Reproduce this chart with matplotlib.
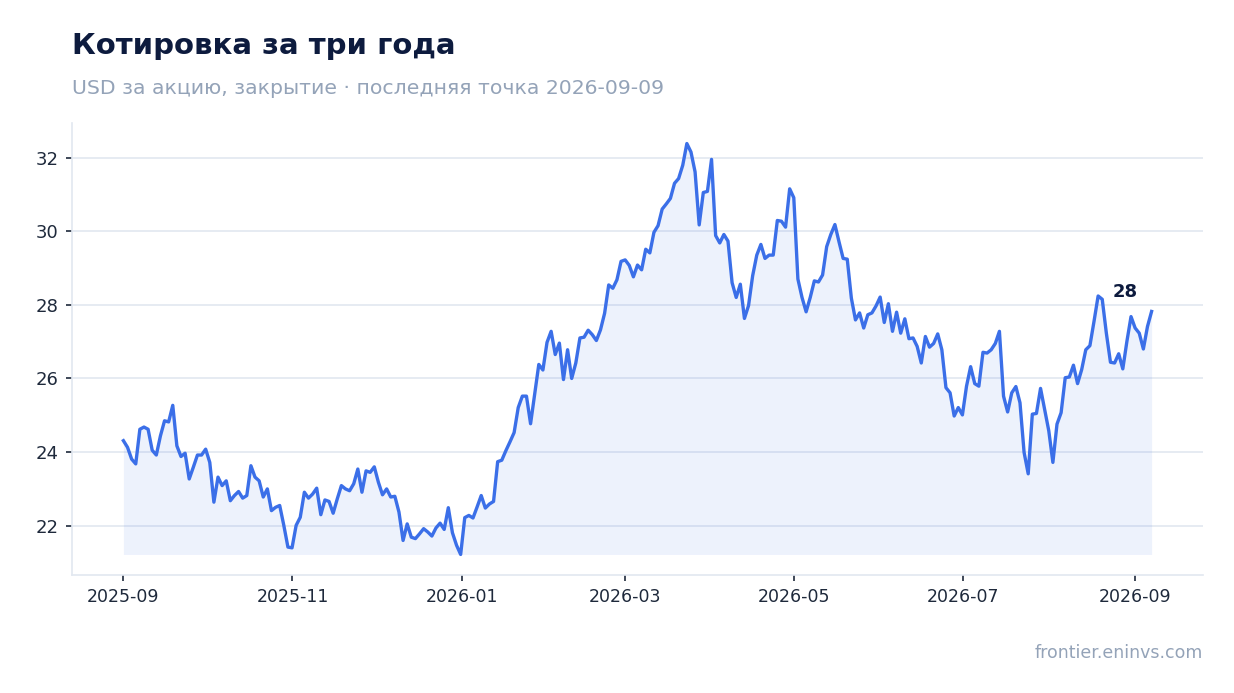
import pandas as pd
import matplotlib
matplotlib.use("Agg")
import matplotlib.pyplot as plt
import matplotlib.dates as mdates

# text
title = "Котировка за три года"
subtitle = "USD за акцию, закрытие · последняя точка 2026-09-09"
source = "frontier.eninvs.com"

# date span of the series (points evenly spaced)
start_date = "2025-09-01"
end_date = "2026-09-07"

# closing prices
prices = [
    24.31, 24.13, 23.81, 23.68, 24.62, 24.68, 24.62, 24.05, 23.92, 24.44,
    24.85, 24.82, 25.27, 24.17, 23.88, 23.97, 23.27, 23.59, 23.92, 23.92,
    24.08, 23.72, 22.64, 23.32, 23.09, 23.22, 22.68, 22.82, 22.93, 22.75,
    22.82, 23.63, 23.32, 23.22, 22.78, 23.00, 22.41, 22.50, 22.55, 22.01,
    21.42, 21.40, 22.01,
    22.23, 22.91, 22.75, 22.86, 23.02, 22.30, 22.70, 22.66, 22.34, 22.73,
    23.09, 23.00, 22.95, 23.14, 23.54, 22.91, 23.49, 23.45, 23.60, 23.18,
    22.84, 23.00, 22.78, 22.80, 22.37, 21.60, 22.05, 21.69, 21.65, 21.78,
    21.92, 21.83, 21.72, 21.94, 22.07, 21.90, 22.49, 21.81, 21.47, 21.22,
    22.22, 22.28, 22.21, 22.51, 22.82,
    22.48, 22.59, 22.66, 23.74, 23.78, 24.04, 24.28, 24.53, 25.21, 25.52,
    25.52, 24.77, 25.57, 26.38, 26.23, 26.98, 27.28, 26.65, 26.96, 25.97,
    26.78, 26.00, 26.42, 27.10, 27.12, 27.31, 27.19, 27.03, 27.32, 27.77,
    28.54, 28.45, 28.68,
    29.18, 29.22, 29.07, 28.76, 29.08, 28.95, 29.51, 29.41, 29.97, 30.15,
    30.60, 30.74, 30.89, 31.30, 31.43, 31.79, 32.38, 32.15, 31.61, 30.17,
    31.05, 31.08, 31.95, 29.88, 29.68, 29.91, 29.73, 28.60, 28.20, 28.56,
    27.63, 27.98, 28.79, 29.35, 29.64, 29.26, 29.35, 29.35, 30.29, 30.27,
    30.11, 31.15, 30.91, 28.70, 28.20, 27.81, 28.20, 28.65, 28.62,
    28.81, 29.58, 29.91, 30.18, 29.71, 29.26, 29.24, 28.18, 27.59, 27.78,
    27.37, 27.73, 27.78, 27.97, 28.21, 27.52, 28.03, 27.28, 27.80, 27.23,
    27.62, 27.08, 27.10, 26.87, 26.42, 27.14, 26.85, 26.95, 27.21, 26.78,
    25.75, 25.61, 24.98, 25.21, 25.01, 25.79, 26.32, 25.86, 25.79, 26.71,
    26.69, 26.78, 26.95, 27.28,
    25.52, 25.09, 25.61, 25.78, 25.34, 23.99, 23.41, 25.03, 25.05, 25.73,
    25.16, 24.58, 23.72, 24.76, 25.07, 26.02, 26.04, 26.36, 25.86, 26.24,
    26.78, 26.89, 27.55, 28.24, 28.15, 27.23, 26.44, 26.42, 26.67, 26.26,
    27.01, 27.68, 27.37, 27.23, 26.80, 27.41, 27.82,
]

y_ticks = [22, 24, 26, 28, 30, 32]
tick_months = [1, 3, 5, 7, 9, 11]

dates = pd.date_range(start_date, end_date, periods=len(prices))

# colours
line_color = "#3b6fe8"
grid_color = "#e2e8f0"
text_dark = "#0d1b3e"
text_muted = "#94a3b8"
tick_color = "#1e293b"

fig = plt.figure(figsize=(12.34, 6.93), dpi=100)
ax = fig.add_axes([72 / 1234, 1 - 575 / 693, (1203 - 72) / 1234, (575 - 123) / 693])

# area + line
ax.fill_between(dates, prices, min(prices), color=line_color, alpha=0.09, lw=0)
ax.plot(dates, prices, color=line_color, lw=2.4, solid_joinstyle="round")

# last value label
ax.annotate(f"{prices[-1]:.0f}", xy=(dates[-1], prices[-1]), xytext=(-26, 19),
            textcoords="offset pixels", ha="center", va="center",
            fontsize=13, fontweight="bold", color=text_dark)

# axes look
ax.set_yticks(y_ticks)
ax.xaxis.set_major_locator(mdates.MonthLocator(bymonth=tick_months))
ax.xaxis.set_major_formatter(mdates.DateFormatter("%Y-%m"))
ax.grid(axis="y", color=grid_color, lw=1.2)
ax.set_axisbelow(True)
for side in ["top", "right"]:
    ax.spines[side].set_visible(False)
for side in ["left", "bottom"]:
    ax.spines[side].set_color(grid_color)
    ax.spines[side].set_linewidth(1.2)
ax.tick_params(axis="both", colors=tick_color, labelsize=13, length=4.5, width=1.2, pad=5)
ax.tick_params(axis="x", labelsize=12.5)

# titles
fig.text(72 / 1234, 1 - 53.5 / 693, title, fontsize=21, fontweight="bold",
         color=text_dark, va="baseline", ha="left")
fig.text(72 / 1234, 1 - 94 / 693, subtitle, fontsize=14.7,
         color=text_muted, va="baseline", ha="left")
fig.text(1203 / 1234, 1 - 658 / 693, source, fontsize=12.5,
         color=text_muted, va="baseline", ha="right")

fig.savefig("out.png", dpi=100)
